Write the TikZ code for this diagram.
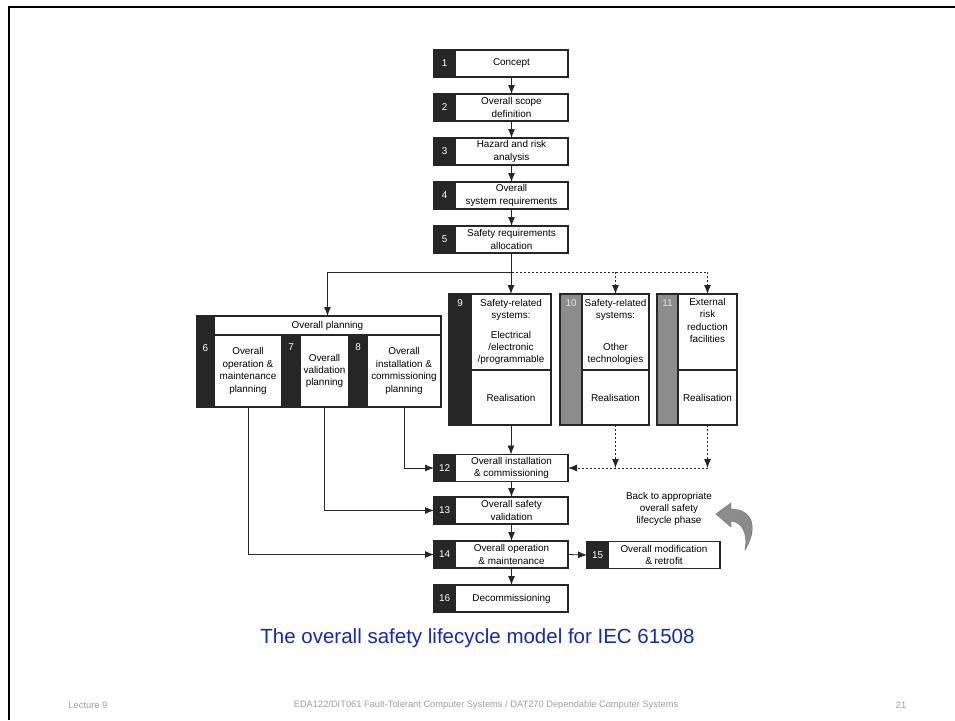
\documentclass[tikz,border=0pt]{standalone}
\usepackage{fontspec}
\setmainfont{Liberation Sans}
\usetikzlibrary{positioning, arrows.meta}
\definecolor{titelblau}{RGB}{20,40,190}
\begin{document}
\begin{tikzpicture}[x=1pt, y=-1pt,
        font=\fontsize{9.9}{12.4}\selectfont,
        feld/.style={draw=black!85, line width=1.2pt, outer sep=0pt, minimum height=27pt, inner sep=1pt, align=center},
        nummer/.style={fill=black!85, draw=black!85, line width=1.2pt, outer sep=0pt, text=white, minimum width=21pt, minimum height=27pt, inner sep=0pt},
        grau/.style={fill=black!45, draw=black!85, line width=1.2pt, outer sep=0pt, inner sep=0pt},
        ziffer/.style={text=white, inner sep=0pt},
        linie/.style={draw=black!85, line width=0.8pt},
        pfeil/.style={linie, -{Latex[length=9pt,width=7pt]}},
        gestrichelt/.style={pfeil, dash pattern=on 2pt off 2pt},
        fuss/.style={text=gray!75, font=\fontsize{9.3}{11}\selectfont}]
        \useasboundingbox (0,0) rectangle (955,720);
        % Rahmen
        \draw[line width=2pt] (8.5,720) -- (8.5,6.5) -- (955,6.5);
        % Hauptspalte
        \foreach \nr/\y/\txt in {1/63.5/Concept, 2/107.5/{Overall scope\\definition},
            3/151.5/{Hazard and risk\\analysis}, 4/195.5/{Overall\\system requirements},
            5/239.5/{Safety requirements\\allocation}, 12/468/{Overall installation\\\& commissioning},
            13/510.5/{Overall safety\\validation}, 14/554.5/{Overall operation\\\& maintenance},
            16/598.5/Decommissioning}
        {
            \node[nummer] (n\nr) at (444.5,\y) {\nr};
            \node[feld, right=0pt of n\nr, minimum width=113pt] (b\nr) {\txt};
        }
        \node[nummer] (n15) at (597.5,555) {15};
        \node[feld, right=0pt of n15, minimum width=112pt] (b15) {Overall modification\\\& retrofit};
        % Planung
        \node[nummer, minimum width=17pt, minimum height=91pt] (n6) at (205.5,361.5) {};
        \node[feld, anchor=north west, minimum width=227pt, minimum height=19pt] (kopf) at (n6.north east) {Overall planning};
        \node[feld, anchor=north west, minimum width=68pt, minimum height=72pt] (p6) at (kopf.south west) {Overall\\operation \&\\maintenance\\planning};
        \node[nummer, anchor=north west, minimum width=18pt, minimum height=72pt] (n7) at (p6.north east) {};
        \node[feld, anchor=north west, minimum width=49pt, minimum height=72pt] (p7) at (n7.north east) {Overall\\validation\\planning};
        \node[nummer, anchor=north west, minimum width=18pt, minimum height=72pt] (n8) at (p7.north east) {};
        \node[feld, anchor=north west, minimum width=74pt, minimum height=72pt] (p8) at (n8.north east) {Overall\\installation \&\\commissioning\\planning};
        \node[ziffer] (z6) at (n6 |- 0,348) {6};
        \node[ziffer] (z7) at (n7 |- 0,347) {7};
        \node[ziffer] (z8) at (n8 |- 0,347) {8};
        % Realisierung
        \node[nummer, minimum width=22pt, minimum height=131pt] (n9) at (460,359.5) {};
        \node[feld, anchor=north west, minimum width=80pt, minimum height=76pt] (o9) at (n9.north east) {Safety-related\\systems:\\[7pt]Electrical\\/electronic\\/programmable};
        \node[feld, anchor=north, minimum width=80pt, minimum height=55pt] (u9) at (o9.south) {Realisation};
        \node[ziffer] (z9) at ([yshift=-9pt]n9.north) {9};
        \node[grau, minimum width=22pt, minimum height=131pt] (n10) at (571,359.5) {};
        \node[feld, anchor=north west, minimum width=67pt, minimum height=76pt] (o10) at (n10.north east) {Safety-related\\systems:\\[19pt]Other\\technologies};
        \node[feld, anchor=north, minimum width=67pt, minimum height=55pt] (u10) at (o10.south) {Realisation};
        \node[ziffer, text=white!80!gray] (z10) at ([yshift=-9pt]n10.north) {10};
        \node[grau, minimum width=21pt, minimum height=131pt] (n11) at (667.5,359.5) {};
        \node[feld, anchor=north west, minimum width=59pt, minimum height=76pt] (o11) at (n11.north east) {};
        \node[anchor=north, align=center, inner sep=0pt] (t11) at ([yshift=-4pt]o11.north) {External\\risk\\reduction\\facilities};
        \node[feld, anchor=north, minimum width=59pt, minimum height=55pt] (u11) at (o11.south) {Realisation};
        \node[ziffer, text=white!80!gray] (z11) at ([yshift=-9pt]n11.north) {11};
        % Pfeile
        \foreach \a/\b in {1/2, 2/3, 3/4, 4/5, 12/13, 13/14, 14/16}
        {
            \draw[pfeil] (b\a.south) -- (b\b.north);
        }
        \coordinate (j) at ([yshift=-19pt]b5.south);
        \draw[linie] (b5.south) -- (j);
        \draw[pfeil] (j) -| (kopf.north);
        \draw[pfeil] (o9.north |- j) -- (o9.north);
        \draw[gestrichelt] (j) -| (o11.north);
        \draw[gestrichelt] (o10.north |- j) -- (o10.north);
        \draw[pfeil] (u9.south) -- (u9.south |- b12.north);
        \draw[gestrichelt] (u10.south) -- (u10.south |- b12.east);
        \draw[gestrichelt] (u11.south) -- (u11.south |- b12.east);
        \draw[gestrichelt] (u11.south |- b12.east) -- (b12.east);
        \draw[pfeil] (p8.south) |- (n12.west);
        \draw[pfeil] (p7.south) |- (n13.west);
        \draw[pfeil] (p6.south) |- (n14.west);
        \draw[pfeil] (b14.east) -- (n15.west);
        % Rueckweg
        \node[align=center] (hinweis) at (669,509) {Back to appropriate\\overall safety\\lifecycle phase};
        \fill[black!45, draw=black!60, line width=0.4pt] (716,514) -- (731,503) -- (731,509)
            .. controls (750,509) and (760,525) .. (745,550)
            .. controls (748,533) and (742,522) .. (731,521) -- (731,527) -- cycle;
        % Texte
        \node[text=titelblau, font=\fontsize{20.5}{24}\selectfont] (titel) at (477.5,638) {The overall safety lifecycle model for IEC 61508};
        \node[fuss, anchor=west] (vorlesung) at (65,705) {Lecture 9};
        \node[fuss] (kurs) at (486,705) {EDA122/DIT061 Fault-Tolerant Computer Systems / DAT270 Dependable Computer Systems};
        \node[fuss] (seite) at (901,705) {21};
\end{tikzpicture}
\end{document}
